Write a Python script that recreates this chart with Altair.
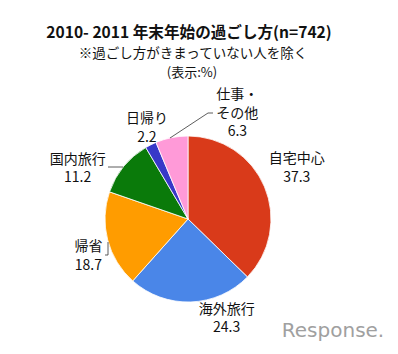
import altair as alt
import pandas as pd

categories = ["自宅中心", "海外旅行", "帰省", "国内旅行", "日帰り", "仕事・その他"]
label_names = ["自宅中心", "海外旅行", "帰省", "国内旅行", "日帰り", "仕事・\nその他"]
values = [37.3, 24.3, 18.7, 11.2, 2.2, 6.3]
colors = ["#D93A1A", "#4A86E8", "#FF9C00", "#0A7A0A", "#3838C8", "#FF9AD8"]

title = "2010- 2011 年末年始の過ごし方(n=742)"
subtitle1 = "※過ごし方がきまっていない人を除く"
subtitle2 = "(表示:%)"

df = pd.DataFrame({
    "cat": categories,
    "value": values,
    "idx": list(range(len(categories))),
    "label": [f"{n}\n{v}" for n, v in zip(label_names, values)],
})

FONT = "Noto Sans CJK JP"
CX, CY, R = 188, 219, 83
TOTAL = sum(values)

pie = alt.Chart(df).mark_arc(outerRadius=R, stroke="white", strokeWidth=0.8).encode(
    theta=alt.Theta("value:Q", stack=True),
    order=alt.Order("idx:Q"),
    color=alt.Color("cat:N", scale=alt.Scale(domain=categories, range=colors), legend=None),
    x=alt.value(CX),
    y=alt.value(CY),
)

# per-label nudges (pixels) from the mid-angle anchor
offsets = {
    "自宅中心": (12, -19),
    "海外旅行": (35, -14),
    "帰省": (2, 2),
    "国内旅行": (-29, 7),
    "日帰り": (6, -6),
    "仕事・その他": (70, -21),
}

texts = []
for c in categories:
    dx, dy = offsets[c]
    texts.append(
        alt.Chart(df).transform_stack(
            stack="value", groupby=[], as_=["v0", "v1"], sort=[alt.SortField("idx")]
        ).transform_calculate(
            mid="(datum.v0 + datum.v1) / 2"
        ).transform_filter(alt.datum.cat == c).mark_text(
            radius=105, dx=dx, dy=dy, font=FONT, fontSize=14,
            lineBreak="\n", lineHeight=18.5, align="center",
            baseline="middle", color="#111"
        ).encode(
            theta=alt.Theta("mid:Q", scale=alt.Scale(domain=[0, TOTAL]), stack=None),
            text="label:N",
            x=alt.value(CX), y=alt.value(CY),
        )
    )

def rule(x1, y1, x2, y2):
    return alt.Chart(pd.DataFrame({"a": [0]})).mark_rule(color="#333", strokeWidth=0.8).encode(
        x=alt.value(x1), y=alt.value(y1), x2=alt.value(x2), y2=alt.value(y2))

leaders = [
    rule(170, 138, 208, 113), rule(208, 113, 213, 113),
    rule(108, 167, 123, 167),
    rule(108, 242, 108, 255), rule(105, 255, 108, 255),
]

def txt(s, x, y, size, bold=False, color="#111", font=FONT):
    return alt.Chart(pd.DataFrame({"t": [s]})).mark_text(
        font=font, fontSize=size, fontWeight="bold" if bold else "normal",
        align="center", baseline="middle", color=color
    ).encode(text="t:N", x=alt.value(x), y=alt.value(y))

titles = [
    txt(title, 189, 33, 15.6, bold=True),
    txt(subtitle1, 193, 54, 13.5),
    txt(subtitle2, 192, 73, 13),
    txt("Response.", 333, 331, 20, color="#a0a0a0", font="DejaVu Sans"),
]

chart = alt.layer(pie, *texts, *leaders, *titles).properties(
    width=398, height=354, padding=0,
    autosize=alt.AutoSizeParams(type="none"),
    background="white",
).configure_view(stroke=None)

chart.save("out.html", embed_options={"renderer": "svg", "actions": False})
